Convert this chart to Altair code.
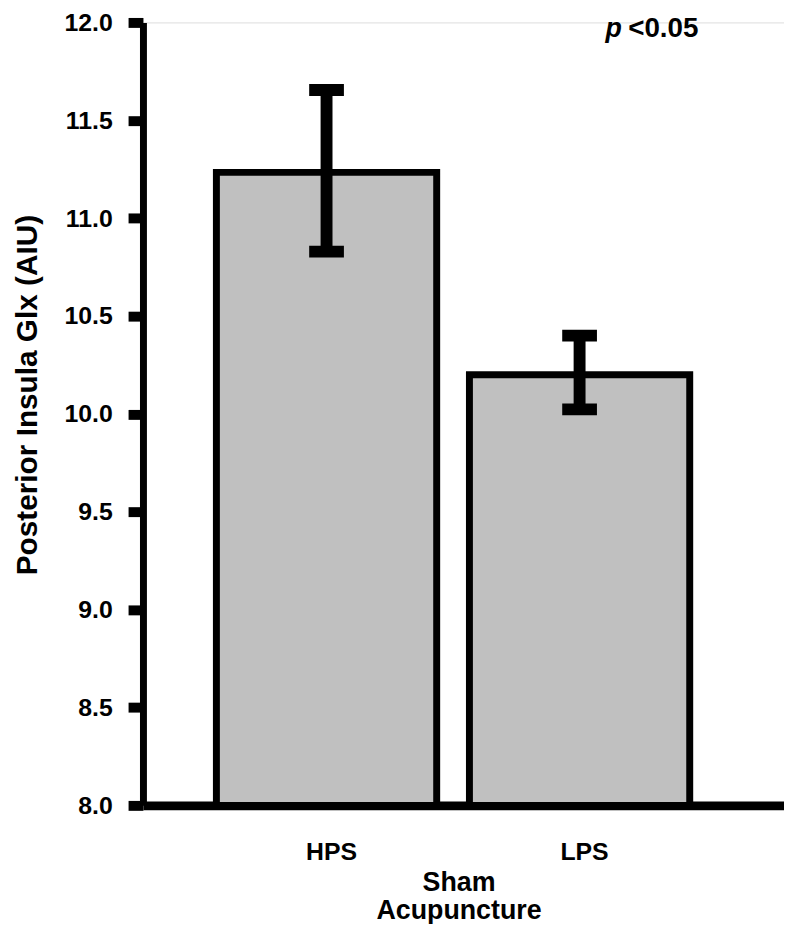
import altair as alt
import pandas as pd

groups = ["HPS", "LPS"]
means = [11.234, 10.20]
err_low = [10.829, 10.023]
err_high = [11.655, 10.400]
y_ticks = [8.0, 8.5, 9.0, 9.5, 10.0, 10.5, 11.0, 11.5, 12.0]

df = pd.DataFrame({"group": groups, "mean": means, "lo": err_low, "hi": err_high})

FONT = "Liberation Sans"

xscale = alt.Scale(domain=groups, paddingInner=0.1294, paddingOuter=0.3314, align=0.4379)
yscale = alt.Scale(domain=[8, 12], zero=False, nice=False)

x_enc = alt.X(
    "group:N", scale=xscale,
    axis=alt.Axis(
        title=["Sham", "Acupuncture"], labelAngle=0, ticks=False, tickSize=0,
        labelFontSize=25, labelFontWeight="bold", labelPadding=35, labelOffset=5,
        labelColor="black", domainColor="black", domainWidth=9,
        titleFontSize=27, titleFontWeight="bold", titlePadding=5, titleX=318,
        titleLineHeight=28, titleColor="black", labelFont=FONT, titleFont=FONT,
    ),
)

y_axis = alt.Axis(
    title="Posterior Insula Glx (AIU)", values=y_ticks, format=".1f", grid=False,
    domainColor="black", domainWidth=7, tickColor="black", tickWidth=10, tickSize=15,
    labelFontSize=25, labelFontWeight="bold", labelPadding=16, labelColor="black",
    titleFontSize=30, titleFontWeight="bold", titleColor="black",
    titleX=-116, titleY=375, titleAlign="center", titleBaseline="middle",
    labelFont=FONT, titleFont=FONT,
)

base = alt.Chart(df)

bars = base.mark_bar(fill="#c0c0c0", stroke="black", strokeWidth=7).encode(
    x=x_enc,
    y=alt.Y("mean:Q", scale=yscale, axis=y_axis),
    y2=alt.datum(8),
)

rules = base.mark_rule(color="black", strokeWidth=12, opacity=1).encode(
    x=alt.X("group:N", scale=xscale),
    y=alt.Y("lo:Q", scale=yscale),
    y2="hi:Q",
)

cap_lo = base.mark_tick(color="black", size=35, thickness=12, orient="horizontal", opacity=1).encode(
    x=alt.X("group:N", scale=xscale), y=alt.Y("lo:Q", scale=yscale)
)
cap_hi = base.mark_tick(color="black", size=35, thickness=12, orient="horizontal", opacity=1).encode(
    x=alt.X("group:N", scale=xscale), y=alt.Y("hi:Q", scale=yscale)
)

ann = pd.DataFrame({"t": ["p"]})
p_txt = alt.Chart(ann).mark_text(
    align="left", baseline="alphabetic", font=FONT, fontSize=27,
    fontWeight="bold", fontStyle="italic", color="black",
).encode(text="t:N", x=alt.value(466), y=alt.value(15))

ann2 = pd.DataFrame({"t": ["<0.05"]})
v_txt = alt.Chart(ann2).mark_text(
    align="left", baseline="alphabetic", font=FONT, fontSize=28,
    fontWeight="bold", color="black",
).encode(text="t:N", x=alt.value(489), y=alt.value(15))

chart = alt.layer(bars, rules, cap_lo, cap_hi, p_txt, v_txt).properties(
    width=646, height=789,
    autosize=alt.AutoSizeParams(type="none"),
    padding={"left": 136, "top": 11, "right": 0, "bottom": 116},
).configure_view(stroke=None).configure(background="white")

chart.save("out.html", embed_options={"renderer": "svg", "actions": False})
